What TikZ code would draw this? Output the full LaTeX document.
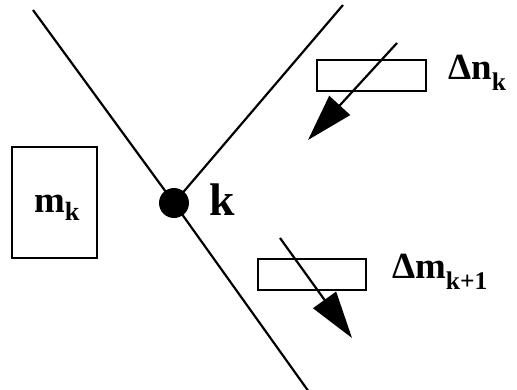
\documentclass[tikz,border=0pt]{standalone}
\usepackage{fontspec}
\setmainfont{Liberation Serif}
\usetikzlibrary{arrows.meta, positioning}
\tikzset{
	massbox/.style={draw, rectangle, line width=1.2pt, inner sep=0pt}
}
\tikzset{
	bigtext/.style={font=\bfseries\fontsize{21}{21}\selectfont, inner sep=0pt, anchor=base west}
}
\newcommand{\lsub}[1]{\raisebox{-6.5pt}{\fontsize{14.5}{14.5}\selectfont #1}}

\begin{document}
\begin{tikzpicture}[x=0.02cm, y=-0.02cm, line width=1.25pt, >={Triangle[length=0.94cm,width=0.56cm]}]
      \useasboundingbox (0,0) rectangle (517,389);
      % node k where the two lines meet
      \node[fill, circle, inner sep=0pt, minimum size=0.6cm] (k) at (174,203) {};
      \coordinate (lt) at (33,10);
      \coordinate (lb) at (309,392);
      \coordinate (rt) at (343,5);
      \draw (lt) -- (k.center) -- (lb);
      \draw (k.center) -- (rt);
      \node[bigtext, font=\bfseries\fontsize{26}{26}\selectfont] (klab) at (208,215) {k};
      % mass box on the left
      \node[massbox, minimum width=1.7cm, minimum height=2.22cm] (mbox) at (54.5,202.5) {};
      \node[bigtext] (mlab) at (33,212)
        {m\raisebox{-5pt}{\fontsize{15}{15}\selectfont k}};
      % the two small boxes, each crossed by an arrow
      \node[massbox, minimum width=2.18cm, minimum height=0.62cm] (nbox) at (371.5,75.5) {};
      \node[massbox, minimum width=2.16cm, minimum height=0.62cm] (dmbox) at (312,274.5) {};
      \coordinate (a1s) at (397,43);
      \coordinate (a1e) at (308,140);
      \coordinate (a2s) at (280,238);
      \coordinate (a2e) at (352,338);
      \draw[->] (a1s) -- (a1e);
      \draw[->] (a2s) -- (a2e);
      \node[bigtext] (nlab) at (447,79) {Δn\lsub{k}};
      \node[bigtext] (dmlab) at (391,278) {Δm\lsub{k+1}};
    \end{tikzpicture}
\end{document}
